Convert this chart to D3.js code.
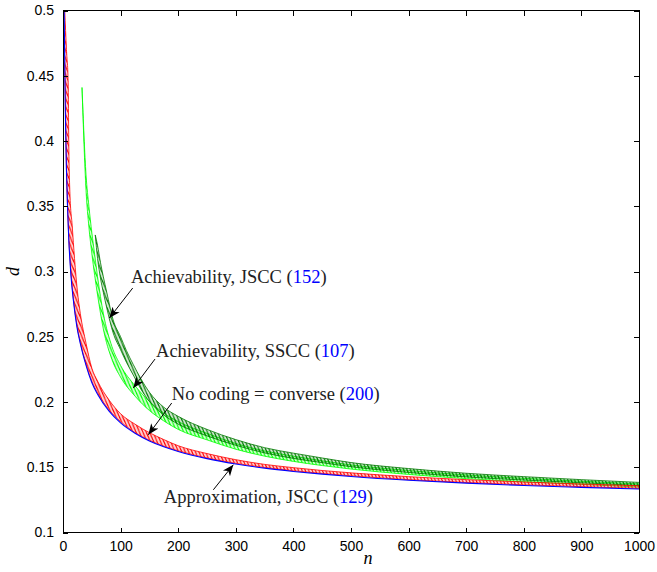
<!DOCTYPE html>
<html>
<head>
<meta charset="utf-8">
<script src="https://cdn.jsdelivr.net/npm/d3@7"></script>
<style>
  html, body { margin: 0; padding: 0; background: #fff; }
  svg { display: block; }
</style>
</head>
<body>
<div id="chart"></div>
<script>
// ---------------- data ----------------
const xTicks = [0, 100, 200, 300, 400, 500, 600, 700, 800, 900, 1000];
const yTicks = [0.1, 0.15, 0.2, 0.25, 0.3, 0.35, 0.4, 0.45, 0.5];
const xTickLabels = ["0", "100", "200", "300", "400", "500", "600", "700", "800", "900", "1000"];
const yTickLabels = ["0.1", "0.15", "0.2", "0.25", "0.3", "0.35", "0.4", "0.45", "0.5"];

// Approximation, JSCC (blue, smooth)
const nApprox = [2, 3, 4, 5, 6, 8, 10, 14, 18, 24, 30, 40, 50, 60, 80, 100, 125, 150, 175, 200, 250, 300, 350, 400, 450, 500, 600, 700, 800, 900, 1000];
const dApprox = [0.5, 0.46, 0.425, 0.40, 0.378, 0.348, 0.325, 0.296, 0.278, 0.258, 0.245, 0.228, 0.215, 0.206, 0.193, 0.184, 0.1761, 0.1702, 0.1657, 0.1621, 0.1566, 0.1525, 0.1493, 0.1468, 0.1447, 0.1429, 0.1400, 0.1378, 0.1360, 0.1346, 0.1333];

// No coding = converse (red, sawtooth: upper / lower envelope)
const nNoCoding = [3, 6, 9, 10, 12, 16, 20, 25, 30, 40, 50, 60, 80, 100, 125, 150, 175, 200, 250, 300, 350, 400, 450, 500, 600, 700, 800, 900, 1000];
const dNoCodingHi = [0.5, 0.47, 0.445, 0.40, 0.36, 0.335, 0.31, 0.285, 0.268, 0.245, 0.226, 0.216, 0.2015, 0.191, 0.183, 0.1765, 0.1712, 0.1665, 0.1605, 0.1558, 0.1522, 0.1497, 0.1475, 0.1457, 0.1428, 0.1405, 0.1387, 0.1372, 0.1358];
const dNoCodingLo = [0.461, 0.379, 0.337, 0.326, 0.311, 0.288, 0.272, 0.257, 0.246, 0.229, 0.216, 0.207, 0.194, 0.185, 0.1766, 0.1707, 0.1662, 0.1626, 0.1571, 0.153, 0.1498, 0.1473, 0.1452, 0.1434, 0.1405, 0.1383, 0.1365, 0.1351, 0.1338];

// Achievability, SSCC (bright green, sawtooth envelope)
const nSSCC = [33, 40, 45, 50, 55, 60, 70, 85, 100, 125, 150, 175, 200, 250, 300, 350, 400, 450, 500, 600, 700, 800, 900, 1000];
const dSSCCHi = [0.441, 0.374, 0.350, 0.330, 0.313, 0.296, 0.268, 0.2425, 0.228, 0.2125, 0.2005, 0.1915, 0.185, 0.176, 0.1682, 0.1625, 0.1585, 0.1549, 0.1518, 0.1475, 0.1441, 0.1415, 0.1393, 0.1372];
const dSSCCLo = [0.441, 0.362, 0.334, 0.314, 0.297, 0.282, 0.256, 0.2325, 0.219, 0.2045, 0.1935, 0.1855, 0.179, 0.171, 0.1638, 0.1585, 0.1545, 0.1513, 0.1486, 0.1445, 0.1413, 0.1389, 0.1369, 0.1348];

// Achievability, JSCC (dark green, sawtooth envelope)
const nJSCC = [56, 60, 65, 70, 76, 87, 100, 110, 122, 135, 150, 175, 200, 250, 300, 350, 400, 450, 500, 600, 700, 800, 900, 1000];
const dJSCCHi = [0.328, 0.320, 0.307, 0.296, 0.284, 0.263, 0.250, 0.2395, 0.2287, 0.218, 0.2075, 0.196, 0.189, 0.179, 0.1712, 0.165, 0.1608, 0.1571, 0.1536, 0.149, 0.1454, 0.1428, 0.1405, 0.1384];
const dJSCCLo = [0.328, 0.310, 0.295, 0.284, 0.272, 0.253, 0.240, 0.2305, 0.2207, 0.210, 0.2005, 0.190, 0.183, 0.174, 0.1668, 0.161, 0.1568, 0.1535, 0.1504, 0.146, 0.1426, 0.1402, 0.1381, 0.136];

// annotations
const annLabels = ["Achievability, JSCC (", "Achievability, SSCC (", "No coding = converse (", "Approximation, JSCC ("];
const annNumbers = ["152", "107", "200", "129"];
const annText = [[118, 0.2913], [161.5, 0.2346], [189, 0.2017], [175, 0.1228]];
const annTail = [[121, 0.2873], [159.7, 0.2329], [188.7, 0.1992], [261, 0.1327]];
const annTip = [[80.4, 0.2643], [122, 0.2107], [148.1, 0.1749], [295.7, 0.1519]];

// ---------------- drawing ----------------
const W = 657, H = 572;
const L = 63, R = 639, T = 10.5, B = 532.5;

const svg = d3.select("#chart").append("svg").attr("width", W).attr("height", H);
svg.append("rect").attr("width", W).attr("height", H).attr("fill", "#fff");
const defs = svg.append("defs");

const x = d3.scaleLinear().domain([0, 1000]).range([L, R]);
const y = d3.scaleLinear().domain([0.1, 0.5]).range([B, T]);

defs.append("clipPath").attr("id", "clip").append("rect")
  .attr("x", L).attr("y", T).attr("width", R - L).attr("height", B - T);

// hatch patterns that mimic the dense sawtooth of the discrete curves
function hatch(id, color, step, w) {
  const p = defs.append("pattern").attr("id", id).attr("patternUnits", "userSpaceOnUse")
    .attr("width", step).attr("height", 8);
  p.append("path").attr("d", `M0,0 L${step},8`).attr("stroke", color).attr("stroke-width", w);
  p.append("path").attr("d", `M${-step},0 L0,8`).attr("stroke", color).attr("stroke-width", w);
  p.append("path").attr("d", `M${step},0 L${2 * step},8`).attr("stroke", color).attr("stroke-width", w);
}
hatch("hRed", "#ff0000", 3.4, 1.1);
hatch("hLime", "#00ff00", 3.4, 1.1);
hatch("hDark", "#007a00", 3.4, 1.1);

const plot = svg.append("g").attr("clip-path", "url(#clip)");

function band(ns, hi, lo, color, patId) {
  const rows = ns.map((n, i) => ({ n, hi: hi[i], lo: lo[i] }));
  const area = d3.area().x(d => x(d.n)).y0(d => y(d.lo)).y1(d => y(d.hi)).curve(d3.curveMonotoneX);
  plot.append("path").datum(rows).attr("d", area).attr("fill", color).attr("fill-opacity", 0.18);
  plot.append("path").datum(rows).attr("d", area).attr("fill", `url(#${patId})`);
  const lHi = d3.line().x(d => x(d.n)).y(d => y(d.hi)).curve(d3.curveMonotoneX);
  const lLo = d3.line().x(d => x(d.n)).y(d => y(d.lo)).curve(d3.curveMonotoneX);
  plot.append("path").datum(rows).attr("d", lHi).attr("fill", "none").attr("stroke", color).attr("stroke-width", 0.8);
  plot.append("path").datum(rows).attr("d", lLo).attr("fill", "none").attr("stroke", color).attr("stroke-width", 0.8);
}

band(nSSCC, dSSCCHi, dSSCCLo, "#00ff00", "hLime");
band(nJSCC, dJSCCHi, dJSCCLo, "#007a00", "hDark");
band(nNoCoding, dNoCodingHi, dNoCodingLo, "#ff0000", "hRed");

const approxRows = nApprox.map((n, i) => ({ n, d: dApprox[i] }));
plot.append("path").datum(approxRows)
  .attr("d", d3.line().x(d => x(d.n)).y(d => y(d.d)).curve(d3.curveMonotoneX))
  .attr("fill", "none").attr("stroke", "#0000ff").attr("stroke-width", 1.1);

// axes box
const axG = svg.append("g");
axG.append("rect").attr("x", L).attr("y", T).attr("width", R - L).attr("height", B - T)
  .attr("fill", "none").attr("stroke", "#000").attr("stroke-width", 1).attr("shape-rendering", "crispEdges");

const tickLen = 5;
const axB = d3.axisBottom(x).tickValues(xTicks).tickFormat((d, i) => xTickLabels[i]).tickSizeInner(-tickLen).tickSizeOuter(0).tickPadding(9);
const axT = d3.axisTop(x).tickValues(xTicks).tickFormat("").tickSizeInner(-tickLen).tickSizeOuter(0);
const axL = d3.axisLeft(y).tickValues(yTicks).tickFormat((d, i) => yTickLabels[i]).tickSizeInner(-tickLen).tickSizeOuter(0).tickPadding(9);
const axR = d3.axisRight(y).tickValues(yTicks).tickFormat("").tickSizeInner(-tickLen).tickSizeOuter(0);

function styleAxis(g) {
  g.select(".domain").remove();
  g.selectAll("line").attr("stroke", "#000").attr("shape-rendering", "crispEdges");
  g.selectAll("text").attr("font-family", "'Liberation Sans', Arial, sans-serif").attr("font-size", 14).attr("fill", "#000");
}
axG.append("g").attr("transform", `translate(0,${B})`).call(axB).call(styleAxis);
axG.append("g").attr("transform", `translate(0,${T})`).call(axT).call(styleAxis);
axG.append("g").attr("transform", `translate(${L},0)`).call(axL).call(styleAxis);
axG.append("g").attr("transform", `translate(${R},0)`).call(axR).call(styleAxis);

// axis titles
svg.append("text").attr("x", 368).attr("y", 564).attr("text-anchor", "middle")
  .attr("font-family", "'Liberation Serif', 'Times New Roman', serif").attr("font-style", "italic").attr("font-size", 18)
  .text("n");
svg.append("text").attr("transform", `translate(19,${(T + B) / 2}) rotate(-90)`).attr("text-anchor", "middle")
  .attr("font-family", "'Liberation Serif', 'Times New Roman', serif").attr("font-style", "italic").attr("font-size", 18)
  .text("d");

// arrowhead marker
defs.append("marker").attr("id", "ah").attr("markerUnits", "userSpaceOnUse")
  .attr("markerWidth", 12).attr("markerHeight", 12).attr("refX", 11).attr("refY", 6).attr("orient", "auto")
  .append("path").attr("d", "M0,1.5 L11,6 L0,10.5 L3,6 Z").attr("fill", "#000");

annLabels.forEach((lab, i) => {
  svg.append("line")
    .attr("x1", x(annTail[i][0])).attr("y1", y(annTail[i][1]))
    .attr("x2", x(annTip[i][0])).attr("y2", y(annTip[i][1]))
    .attr("stroke", "#000").attr("stroke-width", 1).attr("marker-end", "url(#ah)");
  const t = svg.append("text").attr("x", x(annText[i][0])).attr("y", y(annText[i][1]))
    .attr("font-family", "'Liberation Serif', 'Times New Roman', serif").attr("font-size", 18.5).attr("fill", "#222");
  t.append("tspan").text(lab);
  t.append("tspan").attr("fill", "#0000ff").text(annNumbers[i]);
  t.append("tspan").text(")");
});
</script>
</body>
</html>
